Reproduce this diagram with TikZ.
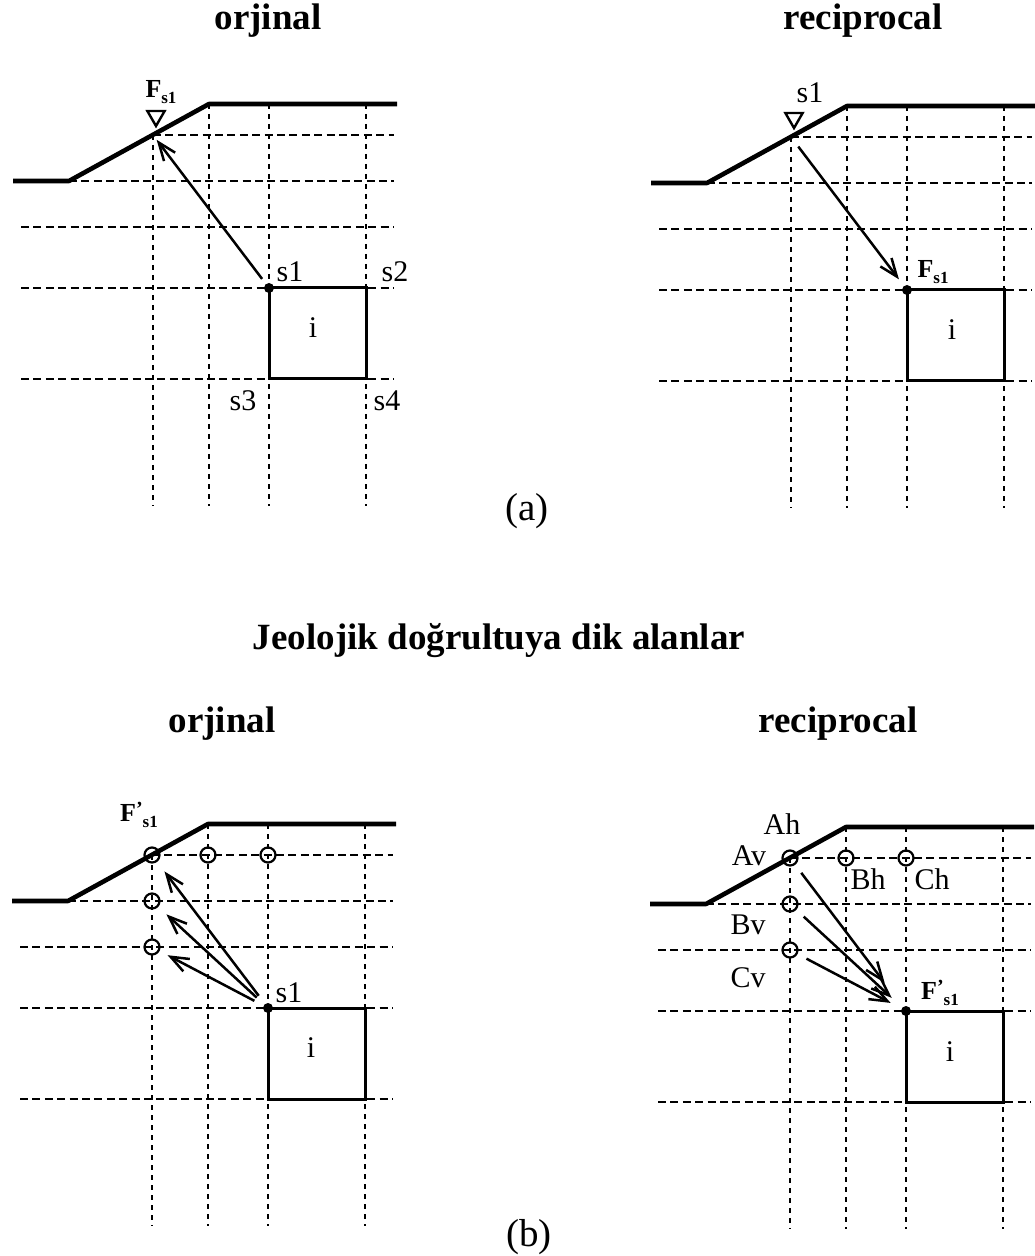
\documentclass[tikz,border=0pt]{standalone}
\usepackage{fontspec}
\setmainfont{Liberation Serif}
\usetikzlibrary{arrows.meta,shapes.geometric}

\newcommand\fsone{F\raisebox{-0.45ex}{\fontsize{8.5}{8.5}\selectfont s1}}
\newcommand\fpsone{F\raisebox{2.8pt}{\fontsize{10}{10}\selectfont'}\raisebox{-3.2pt}{\fontsize{8.5}{8.5}\selectfont s1}}

\begin{document}
\begin{tikzpicture}[x=0.5pt,y=-0.5pt,
  ground/.style={line width=2.3pt,line join=round},
  hgrid/.style={line width=1.1pt,dash pattern=on 4pt off 2.2pt},
  vgrid/.style={line width=1.1pt,dash pattern=on 2.6pt off 2.4pt},
  elem/.style={line width=1.5pt},
  dot/.style={circle,fill,inner sep=0pt,minimum size=5pt},
  hole/.style={circle,draw,line width=1.1pt,inner sep=0pt,minimum size=7.5pt},
  gauge/.style={draw,line width=1.2pt,regular polygon,regular polygon sides=3,
    shape border rotate=180,inner sep=0pt,minimum size=10pt},
  vec/.style={line width=1.25pt,-{Straight Barb[length=9pt,width=7pt]}},
  title/.style={font=\fontsize{18.5}{20}\selectfont\bfseries},
  lbl/.style={font=\fontsize{15}{16}\selectfont},
  flbl/.style={font=\fontsize{13}{13}\selectfont\bfseries},
  slopegrid/.pic={
    \foreach \x in {-60,0,97} \draw[vgrid] (\x,-184) -- (\x,218);
    \draw[vgrid] (-116,-153) -- (-116,218);
    \draw[hgrid] (-116,-153) -- (125,-153);
    \draw[hgrid] (-200,-107) -- (125,-107);
    \foreach \y in {-61,0,91} \draw[hgrid] (-248,\y) -- (125,\y);
    \draw[ground] (-256,-107) -- (-200,-107) -- (-60,-184) -- (128,-184);
    \draw[elem] (0,0) rectangle (97,91);
  }]
\useasboundingbox (0,0) rectangle (1034,1256);

% titles
\node[title] (t-oa) at (268,21) {orjinal};
\node[title] (t-ra) at (863,21) {reciprocal};
\node[title] (t-mid) at (499,641) {Jeolojik doğrultuya dik alanlar};
\node[title] (t-ob) at (222,724) {orjinal};
\node[title] (t-rb) at (838,724) {reciprocal};
\node[font=\fontsize{19.5}{21}\selectfont] (cap-a) at (527,511) {(a)};
\node[font=\fontsize{19.5}{21}\selectfont] (cap-b) at (529,1237) {(b)};

% (a) orjinal
\pic at (269,288) {slopegrid};
\coordinate (oa-f) at (153,135);
\node[dot] (oa-s1) at (269,288) {};
\node[gauge] (oa-g) at (156,116) {};
\node[flbl] (oa-F) at (161,92) {\fsone};
\node[lbl] (oa-l1) at (290,272) {s1};
\node[lbl] (oa-l2) at (395,272) {s2};
\node[lbl] (oa-l3) at (243,401) {s3};
\node[lbl] (oa-l4) at (387,401) {s4};
\node[lbl] (oa-i) at (313,328) {i};
\draw[vec,shorten <=3pt,shorten >=3pt] (oa-s1) -- (oa-f);

% (a) reciprocal
\pic at (907,290) {slopegrid};
\coordinate (ra-f) at (791,137);
\node[dot] (ra-s1) at (907,290) {};
\node[gauge] (ra-g) at (794,118) {};
\node[lbl] (ra-l1) at (810,93) {s1};
\node[flbl] (ra-F) at (933,272) {\fsone};
\node[lbl] (ra-i) at (952,330) {i};
\draw[vec,shorten <=6pt,shorten >=4pt] (ra-f) -- (ra-s1);

% (b) orjinal
\pic at (268,1008) {slopegrid};
\node[dot] (ob-s1) at (268,1008) {};
\node[hole] (ob-h1) at (152,855) {};
\node[hole] (ob-h2) at (208,855) {};
\node[hole] (ob-h3) at (268,855) {};
\node[hole] (ob-v2) at (152,901) {};
\node[hole] (ob-v3) at (152,947) {};
\node[flbl] (ob-F) at (139,815) {\fpsone};
\node[lbl] (ob-l1) at (289,993) {s1};
\node[lbl] (ob-i) at (311,1048) {i};
\draw[vec,shorten <=5pt,shorten >=6pt] (ob-s1) -- (ob-h1);
\draw[vec,shorten <=5pt,shorten >=5.5pt] (ob-s1) -- (ob-v2);
\draw[vec,shorten <=5pt,shorten >=4.5pt] (ob-s1) -- (ob-v3);

% (b) reciprocal
\pic at (906,1011) {slopegrid};
\node[dot] (rb-s1) at (906,1011) {};
\node[hole] (rb-h1) at (790,858) {};
\node[hole] (rb-h2) at (846,858) {};
\node[hole] (rb-h3) at (906,858) {};
\node[hole] (rb-v2) at (790,904) {};
\node[hole] (rb-v3) at (790,950) {};
\node[lbl] (rb-ah) at (782,824) {Ah};
\node[lbl] (rb-av) at (749,856) {Av};
\node[lbl] (rb-bh) at (868,879) {Bh};
\node[lbl] (rb-ch) at (932,879) {Ch};
\node[lbl] (rb-bv) at (748,925) {Bv};
\node[lbl] (rb-cv) at (748,978) {Cv};
\node[flbl] (rb-F) at (940,993) {\fpsone};
\node[lbl] (rb-i) at (950,1052) {i};
\draw[vec,shorten <=5pt,shorten >=15pt] (rb-h1) -- (rb-s1);
\draw[vec,shorten <=5pt,shorten >=7pt] (rb-v2) -- (rb-s1);
\draw[vec,shorten <=5pt,shorten >=6pt] (rb-v3) -- (rb-s1);
\end{tikzpicture}
\end{document}
